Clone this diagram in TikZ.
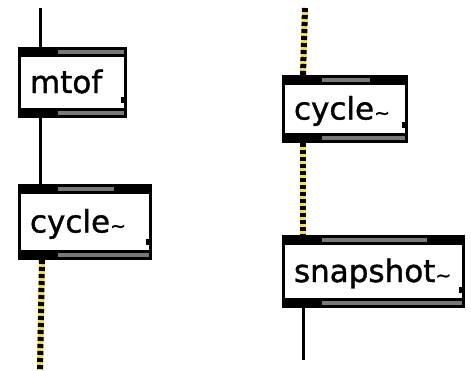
\documentclass[tikz,border=0pt]{standalone}
\usepackage{fontspec}
\setmainfont{DejaVu Sans}[FakeBold=1.2]
\newfontfamily\mxfont{DejaVu Sans}[FakeBold=1.2]
\usetikzlibrary{calc}
\definecolor{cabyel}{RGB}{245,225,60}
\definecolor{stripgray}{RGB}{120,120,120}
\newcommand\mxtilde{{\fontsize{19}{19}\selectfont\textasciitilde}}
\newcommand\mxdeco[2]{%
  \fill (#1.north west) rectangle ($(#1.north east)+(0,10)$);
  \fill (#1.south west) rectangle ($(#1.south east)+(0,-10)$);
  \ifnum#2=2
    \fill[stripgray] ($(#1.north west)+(40,3)$) rectangle ($(#1.north east)+(-38,7)$);
  \else
    \fill[stripgray] ($(#1.north west)+(40,3)$) rectangle ($(#1.north east)+(-3,7)$);
  \fi
  \fill[stripgray] ($(#1.south west)+(40,-7)$) rectangle ($(#1.south east)+(-3,-3)$);
  \fill ($(#1.south east)+(-6,-21)$) rectangle ($(#1.south east)+(-3,-15)$);
}
\begin{document}
\begin{tikzpicture}[x=1pt,y=-1pt,
  mxbox/.style={draw=black, line width=3pt, fill=white, inner sep=0pt,
    font=\mxfont\fontsize{31}{31}\selectfont, text height=24pt, text depth=3pt,
    align=left},
  ctl/.style={draw=black, line width=3pt},
  sig/.style={draw=black, line width=6pt, dash pattern=on 4pt off 3pt,
    preaction={draw=cabyel, line width=6pt}}]
\useasboundingbox[fill=white] (0,0) rectangle (471,370);
% boxes (outer edge = given width/height)
\node[mxbox, minimum width=106pt, minimum height=68pt, text width=85pt] (mtof) at (72.5,82.5) {mtof};
\node[mxbox, minimum width=131pt, minimum height=73pt, text width=110pt] (cycA) at (85,222) {cycle\mxtilde};
\node[mxbox, minimum width=123pt, minimum height=65pt, text width=102pt] (cycB) at (345,109) {cycle\mxtilde};
\node[mxbox, minimum width=180pt, minimum height=70pt, text width=159pt] (snap) at (373.5,271.5) {snapshot\mxtilde};
\mxdeco{mtof}{1}
\mxdeco{cycA}{2}
\mxdeco{cycB}{2}
\mxdeco{snap}{2}
% free ends
\coordinate (ltop) at (40,8);
\coordinate (lbot) at (40,370);
\coordinate (rtop) at (305,8);
\coordinate (rbot) at (303,360);
% connectors
\draw[ctl] (ltop) -- ($(mtof.north west)+(22,0)$);
\draw[ctl] ($(mtof.south west)+(22,0)$) -- ($(cycA.north west)+(22,0)$);
\draw[sig] ($(cycA.south west)+(24,0)$) -- (lbot);
\draw[sig] (rtop) -- ($(cycB.north west)+(21,0)$);
\draw[sig] ($(cycB.south west)+(21,0)$) -- ($(snap.north west)+(21,0)$);
\draw[ctl] ($(snap.south west)+(21,0)$) -- (rbot);
\end{tikzpicture}
\end{document}
